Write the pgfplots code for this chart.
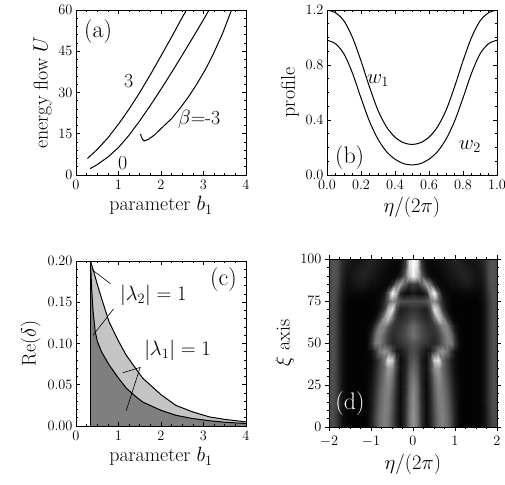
\documentclass[border=0pt]{standalone}
\usepackage{fontspec}
\usepackage{pgfplots}
\usepackage{pgfplotstable}
\pgfplotsset{compat=1.18}

\definecolor{shdark}{HTML}{7F7F7F}
\definecolor{shlight}{HTML}{C4C4C4}

\pgfplotsset{
  pan/.style={
    scale only axis, width=170bp, height=165bp, anchor=north west,
    axis line style={line width=0.8pt},
    tick style={black, line width=0.6pt},
    major tick length=4bp, minor tick length=2bp,
    tick align=inside,
    ticklabel style={font=\fontsize{13.5}{15}\selectfont},
    xticklabel style={yshift=-2bp},
    label style={font=\fontsize{20}{24}\selectfont},
  },
  curve/.style={black, line width=1pt, mark=none},
}
\newcommand{\lbl}{\fontsize{20}{24}\selectfont}
\newcommand{\plbl}{\fontsize{24}{28}\selectfont}

% intensity map, half of it (x >= 0), mirrored when plotted
\pgfplotstableread{
x y c
0.0 0 0.58
0.1 0 0.45
0.2 0 0.20
0.3 0 0.04
0.4 0 0.14
0.5 0 0.30
0.6 0 0.45
0.7 0 0.50
0.8 0 0.42
0.9 0 0.28
1.0 0 0.12
1.1 0 0.03
1.2 0 0.01
1.3 0 0.01
1.4 0 0.01
1.5 0 0.01
1.6 0 0.02
1.7 0 0.06
1.8 0 0.20
1.9 0 0.30
2.0 0 0.28
0.0 5 0.58
0.1 5 0.45
0.2 5 0.20
0.3 5 0.04
0.4 5 0.14
0.5 5 0.30
0.6 5 0.45
0.7 5 0.50
0.8 5 0.42
0.9 5 0.28
1.0 5 0.12
1.1 5 0.03
1.2 5 0.01
1.3 5 0.01
1.4 5 0.01
1.5 5 0.01
1.6 5 0.02
1.7 5 0.06
1.8 5 0.20
1.9 5 0.30
2.0 5 0.28
0.0 10 0.57
0.1 10 0.44
0.2 10 0.19
0.3 10 0.04
0.4 10 0.15
0.5 10 0.32
0.6 10 0.47
0.7 10 0.50
0.8 10 0.40
0.9 10 0.26
1.0 10 0.11
1.1 10 0.03
1.2 10 0.01
1.3 10 0.01
1.4 10 0.01
1.5 10 0.01
1.6 10 0.02
1.7 10 0.06
1.8 10 0.21
1.9 10 0.31
2.0 10 0.28
0.0 15 0.56
0.1 15 0.43
0.2 15 0.18
0.3 15 0.04
0.4 15 0.15
0.5 15 0.34
0.6 15 0.48
0.7 15 0.49
0.8 15 0.38
0.9 15 0.23
1.0 15 0.10
1.1 15 0.03
1.2 15 0.01
1.3 15 0.01
1.4 15 0.01
1.5 15 0.01
1.6 15 0.02
1.7 15 0.07
1.8 15 0.22
1.9 15 0.31
2.0 15 0.28
0.0 20 0.55
0.1 20 0.42
0.2 20 0.17
0.3 20 0.04
0.4 20 0.16
0.5 20 0.36
0.6 20 0.50
0.7 20 0.48
0.8 20 0.36
0.9 20 0.21
1.0 20 0.09
1.1 20 0.03
1.2 20 0.01
1.3 20 0.01
1.4 20 0.01
1.5 20 0.01
1.6 20 0.02
1.7 20 0.07
1.8 20 0.22
1.9 20 0.32
2.0 20 0.28
0.0 25 0.52
0.1 25 0.40
0.2 25 0.16
0.3 25 0.04
0.4 25 0.18
0.5 25 0.40
0.6 25 0.52
0.7 25 0.47
0.8 25 0.33
0.9 25 0.18
1.0 25 0.08
1.1 25 0.03
1.2 25 0.01
1.3 25 0.01
1.4 25 0.01
1.5 25 0.01
1.6 25 0.02
1.7 25 0.07
1.8 25 0.22
1.9 25 0.32
2.0 25 0.28
0.0 30 0.48
0.1 30 0.37
0.2 30 0.15
0.3 30 0.05
0.4 30 0.20
0.5 30 0.45
0.6 30 0.56
0.7 30 0.45
0.8 30 0.30
0.9 30 0.16
1.0 30 0.06
1.1 30 0.02
1.2 30 0.01
1.3 30 0.01
1.4 30 0.01
1.5 30 0.01
1.6 30 0.02
1.7 30 0.07
1.8 30 0.22
1.9 30 0.32
2.0 30 0.28
0.0 35 0.42
0.1 35 0.33
0.2 35 0.14
0.3 35 0.06
0.4 35 0.25
0.5 35 0.55
0.6 35 0.62
0.7 35 0.42
0.8 35 0.27
0.9 35 0.14
1.0 35 0.05
1.1 35 0.02
1.2 35 0.01
1.3 35 0.01
1.4 35 0.01
1.5 35 0.01
1.6 35 0.02
1.7 35 0.07
1.8 35 0.22
1.9 35 0.32
2.0 35 0.28
0.0 40 0.35
0.1 40 0.28
0.2 40 0.12
0.3 40 0.05
0.4 40 0.25
0.5 40 0.80
0.6 40 0.90
0.7 40 0.45
0.8 40 0.25
0.9 40 0.12
1.0 40 0.04
1.1 40 0.02
1.2 40 0.01
1.3 40 0.01
1.4 40 0.01
1.5 40 0.01
1.6 40 0.02
1.7 40 0.07
1.8 40 0.22
1.9 40 0.32
2.0 40 0.28
0.0 45 0.30
0.1 45 0.26
0.2 45 0.16
0.3 45 0.08
0.4 45 0.10
0.5 45 0.28
0.6 45 0.50
0.7 45 0.58
0.8 45 0.45
0.9 45 0.22
1.0 45 0.06
1.1 45 0.02
1.2 45 0.01
1.3 45 0.01
1.4 45 0.01
1.5 45 0.01
1.6 45 0.02
1.7 45 0.07
1.8 45 0.22
1.9 45 0.32
2.0 45 0.28
0.0 50 0.34
0.1 50 0.30
0.2 50 0.25
0.3 50 0.20
0.4 50 0.16
0.5 50 0.15
0.6 50 0.22
0.7 50 0.35
0.8 50 0.50
0.9 50 0.48
1.0 50 0.20
1.1 50 0.04
1.2 50 0.01
1.3 50 0.01
1.4 50 0.01
1.5 50 0.01
1.6 50 0.02
1.7 50 0.07
1.8 50 0.22
1.9 50 0.32
2.0 50 0.28
0.0 55 0.45
0.1 55 0.38
0.2 55 0.30
0.3 55 0.24
0.4 55 0.20
0.5 55 0.18
0.6 55 0.24
0.7 55 0.38
0.8 55 0.52
0.9 55 0.42
1.0 55 0.15
1.1 55 0.03
1.2 55 0.01
1.3 55 0.01
1.4 55 0.01
1.5 55 0.01
1.6 55 0.02
1.7 55 0.07
1.8 55 0.22
1.9 55 0.32
2.0 55 0.28
0.0 60 0.42
0.1 60 0.36
0.2 60 0.28
0.3 60 0.22
0.4 60 0.20
0.5 60 0.22
0.6 60 0.35
0.7 60 0.52
0.8 60 0.50
0.9 60 0.25
1.0 60 0.06
1.1 60 0.02
1.2 60 0.01
1.3 60 0.01
1.4 60 0.01
1.5 60 0.01
1.6 60 0.02
1.7 60 0.07
1.8 60 0.22
1.9 60 0.32
2.0 60 0.28
0.0 65 0.28
0.1 65 0.25
0.2 65 0.20
0.3 65 0.16
0.4 65 0.20
0.5 65 0.45
0.6 65 0.78
0.7 65 0.60
0.8 65 0.22
0.9 65 0.06
1.0 65 0.02
1.1 65 0.01
1.2 65 0.01
1.3 65 0.01
1.4 65 0.01
1.5 65 0.01
1.6 65 0.02
1.7 65 0.07
1.8 65 0.22
1.9 65 0.32
2.0 65 0.28
0.0 70 0.20
0.1 70 0.18
0.2 70 0.14
0.3 70 0.12
0.4 70 0.30
0.5 70 0.88
0.6 70 0.72
0.7 70 0.25
0.8 70 0.06
0.9 70 0.02
1.0 70 0.01
1.1 70 0.01
1.2 70 0.01
1.3 70 0.01
1.4 70 0.01
1.5 70 0.01
1.6 70 0.02
1.7 70 0.07
1.8 70 0.22
1.9 70 0.32
2.0 70 0.28
0.0 75 0.30
0.1 75 0.30
0.2 75 0.30
0.3 75 0.32
0.4 75 0.45
0.5 75 0.55
0.6 75 0.38
0.7 75 0.16
0.8 75 0.05
0.9 75 0.02
1.0 75 0.01
1.1 75 0.01
1.2 75 0.01
1.3 75 0.01
1.4 75 0.01
1.5 75 0.01
1.6 75 0.03
1.7 75 0.08
1.8 75 0.22
1.9 75 0.32
2.0 75 0.28
0.0 80 0.10
0.1 80 0.06
0.2 80 0.04
0.3 80 0.15
0.4 80 0.70
0.5 80 0.98
0.6 80 0.40
0.7 80 0.08
0.8 80 0.03
0.9 80 0.02
1.0 80 0.02
1.1 80 0.02
1.2 80 0.03
1.3 80 0.03
1.4 80 0.03
1.5 80 0.03
1.6 80 0.04
1.7 80 0.10
1.8 80 0.25
1.9 80 0.33
2.0 80 0.28
0.0 85 0.25
0.1 85 0.20
0.2 85 0.35
0.3 85 0.62
0.4 85 0.45
0.5 85 0.14
0.6 85 0.04
0.7 85 0.03
0.8 85 0.04
0.9 85 0.06
1.0 85 0.06
1.1 85 0.08
1.2 85 0.10
1.3 85 0.10
1.4 85 0.08
1.5 85 0.06
1.6 85 0.06
1.7 85 0.12
1.8 85 0.28
1.9 85 0.32
2.0 85 0.28
0.0 90 0.95
0.1 90 0.75
0.2 90 0.40
0.3 90 0.14
0.4 90 0.04
0.5 90 0.03
0.6 90 0.03
0.7 90 0.04
0.8 90 0.06
0.9 90 0.08
1.0 90 0.10
1.1 90 0.12
1.2 90 0.13
1.3 90 0.12
1.4 90 0.10
1.5 90 0.08
1.6 90 0.08
1.7 90 0.14
1.8 90 0.30
1.9 90 0.33
2.0 90 0.28
0.0 95 1.00
0.1 95 0.85
0.2 95 0.25
0.3 95 0.05
0.4 95 0.03
0.5 95 0.03
0.6 95 0.04
0.7 95 0.06
0.8 95 0.08
0.9 95 0.10
1.0 95 0.12
1.1 95 0.13
1.2 95 0.12
1.3 95 0.10
1.4 95 0.08
1.5 95 0.08
1.6 95 0.10
1.7 95 0.16
1.8 95 0.30
1.9 95 0.33
2.0 95 0.28
0.0 100 1.00
0.1 100 0.85
0.2 100 0.20
0.3 100 0.05
0.4 100 0.04
0.5 100 0.05
0.6 100 0.06
0.7 100 0.08
0.8 100 0.10
0.9 100 0.12
1.0 100 0.13
1.1 100 0.12
1.2 100 0.10
1.3 100 0.08
1.4 100 0.08
1.5 100 0.10
1.6 100 0.13
1.7 100 0.18
1.8 100 0.30
1.9 100 0.32
2.0 100 0.28
}\dmap

\begin{document}
\begin{tikzpicture}
\path[use as bounding box] (0,0) rectangle (505bp,-485bp);

% (a) energy flow
\begin{axis}[pan, at={(76bp,-10bp)},
  xmin=0, xmax=4, ymin=0, ymax=60,
  xtick={0,1,2,3,4}, ytick={0,15,30,45,60},
  minor x tick num=3, minor y tick num=4,
  xlabel={parameter $b_1$}, ylabel={energy flow $U$}]
\addplot[curve] coordinates {(0.27,6) (0.5,9.3) (0.75,13.5) (1.0,18.5) (1.25,24) (1.5,30)
  (1.75,36.5) (2.0,43.3) (2.25,50.2) (2.5,57.3) (2.6,60)};
\addplot[curve] coordinates {(0.33,2.3) (0.5,3.8) (0.75,6.5) (1.0,10) (1.25,14.5) (1.5,19.7)
  (1.75,25.3) (2.0,31.2) (2.25,37.3) (2.5,43.6) (2.75,50) (3.0,56.5) (3.13,60)};
\addplot[curve] coordinates {(1.52,14.9) (1.54,13.8) (1.57,12.9) (1.60,12.4) (1.7,12.9)
  (1.85,14.6) (2.05,17.6) (2.25,20.5) (2.45,24.3) (2.65,28.5) (2.84,33) (3.05,38.5)
  (3.23,44) (3.45,51.5) (3.66,60)};
\node[font=\plbl] at (axis cs:0.52,52) {(a)};
\node[font=\lbl] at (axis cs:1.24,34) {3};
\node[font=\lbl] at (axis cs:1.1,4.5) {0};
\node[font=\lbl] at (axis cs:2.9,20.4) {$\beta$=-3};
\end{axis}

% (b) profiles
\begin{axis}[pan, at={(327bp,-10bp)},
  xmin=0, xmax=1, ymin=0, ymax=1.2,
  xtick={0,0.2,0.4,0.6,0.8,1.0}, ytick={0,0.4,0.8,1.2},
  minor x tick num=3, minor y tick num=3,
  ticklabel style={/pgf/number format/fixed, /pgf/number format/fixed zerofill,
    /pgf/number format/precision=1},
  xlabel={$\eta/(2\pi)$}, ylabel={profile}]
\addplot[curve, smooth] coordinates {(0,1.2) (0.05,1.18) (0.1,1.12) (0.15,1.0) (0.2,0.83)
  (0.25,0.64) (0.3,0.47) (0.35,0.35) (0.4,0.275) (0.45,0.235) (0.5,0.222)
  (0.55,0.235) (0.6,0.275) (0.65,0.35) (0.7,0.47) (0.75,0.64) (0.8,0.83)
  (0.85,1.0) (0.9,1.12) (0.95,1.18) (1.0,1.2)};
\addplot[curve, smooth] coordinates {(0,0.98) (0.05,0.955) (0.1,0.88) (0.15,0.74) (0.2,0.56)
  (0.25,0.39) (0.3,0.26) (0.35,0.17) (0.4,0.115) (0.45,0.083) (0.5,0.073)
  (0.55,0.083) (0.6,0.115) (0.65,0.17) (0.7,0.26) (0.75,0.39) (0.8,0.56)
  (0.85,0.74) (0.9,0.88) (0.95,0.955) (1.0,0.98)};
\node[font=\plbl] at (axis cs:0.133,0.126) {(b)};
\node[font=\lbl] at (axis cs:0.30,0.69) {$w_1$};
\node[font=\lbl] at (axis cs:0.84,0.21) {$w_2$};
\end{axis}

% (c) instability domains
\begin{axis}[pan, at={(76bp,-261bp)},
  xmin=0, xmax=4, ymin=0, ymax=0.2,
  xtick={0,1,2,3,4}, ytick={0,0.05,0.10,0.15,0.20},
  minor x tick num=3, minor y tick num=4,
  yticklabel style={/pgf/number format/fixed, /pgf/number format/fixed zerofill,
    /pgf/number format/precision=2},
  xlabel={parameter $b_1$}, ylabel={Re($\delta$)}, axis on top]
\addplot[fill=shlight, draw=none] coordinates {(0.34,0) (0.34,0.2) (0.4,0.19) (0.5,0.172)
  (0.6,0.155) (0.78,0.126) (1.0,0.103) (1.18,0.086) (1.4,0.07) (1.57,0.058) (2.0,0.038)
  (2.35,0.025) (2.75,0.017) (3.14,0.011) (3.5,0.008) (4.0,0.005) (4.0,0)} \closedcycle;
\addplot[fill=shdark, draw=none] coordinates {(0.34,0) (0.34,0.2) (0.37,0.165) (0.4,0.14)
  (0.45,0.115) (0.5,0.103) (0.6,0.09) (0.78,0.074) (1.0,0.058) (1.18,0.046) (1.4,0.036)
  (1.57,0.029) (2.0,0.019) (2.35,0.013) (2.75,0.009) (3.14,0.0064) (3.5,0.0046)
  (4.0,0.003) (4.0,0)} \closedcycle;
\addplot[curve] coordinates {(0.34,0.2) (0.4,0.19) (0.5,0.172)
  (0.6,0.155) (0.78,0.126) (1.0,0.103) (1.18,0.086) (1.4,0.07) (1.57,0.058) (2.0,0.038)
  (2.35,0.025) (2.75,0.017) (3.14,0.011) (3.5,0.008) (4.0,0.005)};
\addplot[curve] coordinates {(0.34,0.2) (0.37,0.165) (0.4,0.14)
  (0.45,0.115) (0.5,0.103) (0.6,0.09) (0.78,0.074) (1.0,0.058) (1.18,0.046) (1.4,0.036)
  (1.57,0.029) (2.0,0.019) (2.35,0.013) (2.75,0.009) (3.14,0.0064) (3.5,0.0046)
  (4.0,0.003)};
\addplot[black, line width=1.4pt] coordinates {(0.34,0) (0.34,0.2)};
\draw[line width=0.6pt] (axis cs:0.81,0.1726) -- (axis cs:0.376,0.1895);
\draw[line width=0.6pt] (axis cs:0.885,0.142) -- (axis cs:0.40,0.110);
\draw[line width=0.6pt] (axis cs:1.10,0.0645) -- (axis cs:1.51,0.071) -- (axis cs:1.18,0.0185);
\node[font=\lbl] at (axis cs:1.82,0.158) {$|\lambda_2|=1$};
\node[font=\lbl] at (axis cs:2.39,0.092) {$|\lambda_1|=1$};
\node[font=\plbl] at (axis cs:3.47,0.177) {(c)};
\end{axis}

% (d) propagation map
\begin{axis}[pan, at={(329bp,-259bp)}, width=168bp, height=168bp,
  xmin=-2, xmax=2, ymin=0, ymax=100,
  xtick={-2,-1,0,1,2}, ytick={0,25,50,75,100},
  minor x tick num=3, minor y tick num=4,
  tick align=outside, axis on top,
  colormap={bw}{gray(0cm)=(0); gray(1cm)=(1)},
  point meta min=0, point meta max=1,
  xlabel={$\eta/(2\pi)$}, ylabel={$\xi$ axis}]
\addplot[surf, shader=interp, mesh/cols=21, point meta=explicit]
  table[x=x, y=y, meta=c] {\dmap};
\addplot[surf, shader=interp, mesh/cols=21, point meta=explicit]
  table[x expr=-\thisrow{x}, y=y, meta=c] {\dmap};
\node[font=\plbl, text=white] at (axis cs:-1.5,14) {(d)};
\end{axis}
\end{tikzpicture}
\end{document}
